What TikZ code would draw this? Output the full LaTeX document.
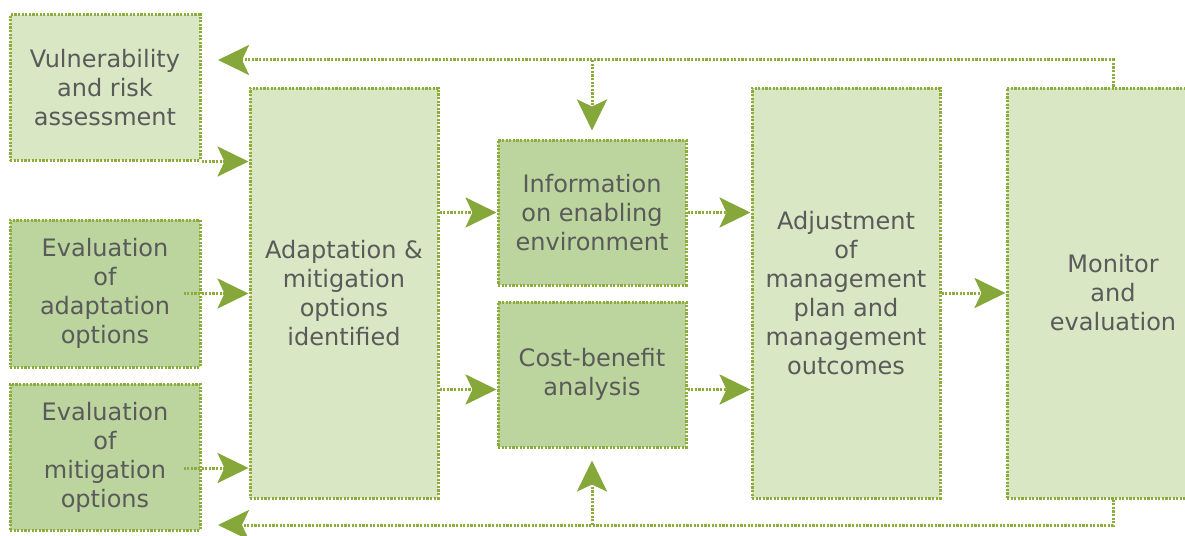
\documentclass[tikz,border=0pt]{standalone}
\usepackage{fontspec}
\setmainfont{DejaVu Sans}
\usetikzlibrary{arrows.meta,calc}
\definecolor{lightg}{HTML}{D9E7C4}
\definecolor{darkg}{HTML}{BCD59E}
\definecolor{lineg}{HTML}{8CAD3C}
\definecolor{arrg}{HTML}{86A83A}
\definecolor{txt}{HTML}{5A5A5A}
\begin{document}
\begin{tikzpicture}[x=1pt,y=-1pt,
  box/.style={draw=lineg, line width=3pt, dash pattern=on 2.2pt off 1.4pt, text=txt,
    font=\fontsize{24}{29}\selectfont, align=center, inner sep=0pt},
  light/.style={box, fill=lightg},
  dark/.style={box, fill=darkg},
  conn/.style={draw=lineg, line width=3pt, dash pattern=on 2.2pt off 1.4pt},
  arr/.style={conn, -{Stealth[length=31pt,width=30pt,inset=7pt,color=arrg]}}]
\useasboundingbox (0,0) rectangle (1185,535);
\clip (0,0) rectangle (1185,535);
\fill[white] (0,0) rectangle (1185,535);

\node[light, minimum width=190pt, minimum height=145pt] (vul) at (105,87.5) {Vulnerability\\and risk\\assessment};
\node[dark, minimum width=190pt, minimum height=147pt] (evA) at (105,293.5) {Evaluation\\of\\adaptation\\options};
\node[dark, minimum width=190pt, minimum height=146pt] (evM) at (105,457) {Evaluation\\of\\mitigation\\options};
\node[light, minimum width=188pt, minimum height=410pt] (adm) at (344,293) {Adaptation \&\\mitigation\\options\\identified};
\node[dark, minimum width=188pt, minimum height=145pt] (inf) at (592,212.5) {Information\\on enabling\\environment};
\node[dark, minimum width=188pt, minimum height=145pt] (cba) at (592,374.5) {Cost-benefit\\analysis};
\node[light, minimum width=188pt, minimum height=410pt] (adj) at (846,293) {Adjustment\\of\\management\\plan and\\management\\outcomes};
\node[light, minimum width=212pt, minimum height=410pt] (mon) at (1113,293) {Monitor\\and\\evaluation};

\coordinate (topL) at (218,60);
\coordinate (botL) at (218,525);

\draw[arr] (mon.north) |- (topL);
\draw[arr, shorten >=8pt] (inf.north |- topL) -- (inf.north);
\draw[arr] (mon.south) |- (botL);
\draw[arr, shorten >=12pt] (cba.south |- botL) -- (cba.south);

\draw[arr] (vul.south east) -- (vul.south east -| adm.west);
\draw[arr] ([xshift=-18pt]evA.east) -- (evA.east -| adm.west);
\draw[arr] ([xshift=-18pt,yshift=-11pt]evM.east) -- ([yshift=-11pt]evM.east -| adm.west);
\draw[arr] (adm.east |- inf.west) -- (inf.west);
\draw[arr] ([yshift=-15pt]adm.east |- cba.west) -- ([yshift=-15pt]cba.west);
\draw[arr] (inf.east) -- (inf.east -| adj.west);
\draw[arr] ([yshift=-15pt]cba.east) -- ([yshift=-15pt]cba.east -| adj.west);
\draw[arr] (adj.east) -- (adj.east -| mon.west);
\end{tikzpicture}
\end{document}
